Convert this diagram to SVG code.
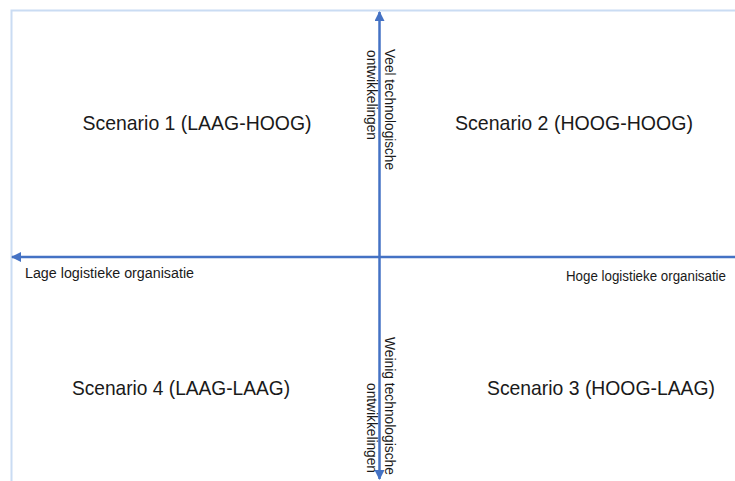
<svg xmlns="http://www.w3.org/2000/svg" width="735" height="481" viewBox="0 0 735 481">
<defs>
<style>
.frame{stroke:#CADCF3;stroke-width:2;fill:none}
.axis{stroke:#4472C4;stroke-width:2.5;fill:none}
.big{font-family:"Liberation Sans",Arial,sans-serif;font-size:21px;fill:#1a1a1a}
.small{font-family:"Liberation Sans",Arial,sans-serif;font-size:14px;fill:#1a1a1a}
.lbl{font-family:"Liberation Sans",Arial,sans-serif;font-size:14px;fill:#1a1a1a}
</style>
<marker id="arr" viewBox="0 0 10 10" refX="9" refY="5" markerWidth="4" markerHeight="4" orient="auto-start-reverse" markerUnits="strokeWidth">
<path d="M0,0 L10,5 L0,10 z" fill="#4472C4"/>
</marker>
</defs>
<rect width="735" height="481" fill="#ffffff"/>
<g id="frame">
<path class="frame" d="M11.5,481 V10.5 H735"/>
</g>
<g id="connectors">
<line class="axis" x1="735" y1="257" x2="12" y2="257" marker-end="url(#arr)"/>
<line class="axis" x1="379.5" y1="257" x2="379.5" y2="12" marker-end="url(#arr)"/>
<line class="axis" x1="379.5" y1="257" x2="379.5" y2="479" marker-end="url(#arr)"/>
</g>
<g id="scenario1"><text class="big" x="82.5" y="130" textLength="229" lengthAdjust="spacingAndGlyphs">Scenario 1 (LAAG-HOOG)</text></g>
<g id="scenario2"><text class="big" x="455" y="130" textLength="238" lengthAdjust="spacingAndGlyphs">Scenario 2 (HOOG-HOOG)</text></g>
<g id="scenario4"><text class="big" x="72" y="395" textLength="218" lengthAdjust="spacingAndGlyphs">Scenario 4 (LAAG-LAAG)</text></g>
<g id="scenario3"><text class="big" x="487" y="395" textLength="228" lengthAdjust="spacingAndGlyphs">Scenario 3 (HOOG-LAAG)</text></g>
<g id="label-lage"><text class="lbl" x="25" y="278" textLength="169" lengthAdjust="spacingAndGlyphs">Lage logistieke organisatie</text></g>
<g id="label-hoge"><text class="lbl" x="566" y="281" textLength="160" lengthAdjust="spacingAndGlyphs">Hoge logistieke organisatie</text></g>
<g id="label-veel">
<text class="small" transform="translate(385,49) rotate(90)" textLength="121" lengthAdjust="spacingAndGlyphs">Veel technologische</text>
<text class="small" transform="translate(367,50) rotate(90)" textLength="90" lengthAdjust="spacingAndGlyphs">ontwikkelingen</text>
</g>
<g id="label-weinig">
<text class="small" transform="translate(385,337) rotate(90)" textLength="138" lengthAdjust="spacingAndGlyphs">Weinig technologische</text>
<text class="small" transform="translate(367,383) rotate(90)" textLength="90" lengthAdjust="spacingAndGlyphs">ontwikkelingen</text>
</g>
</svg>
